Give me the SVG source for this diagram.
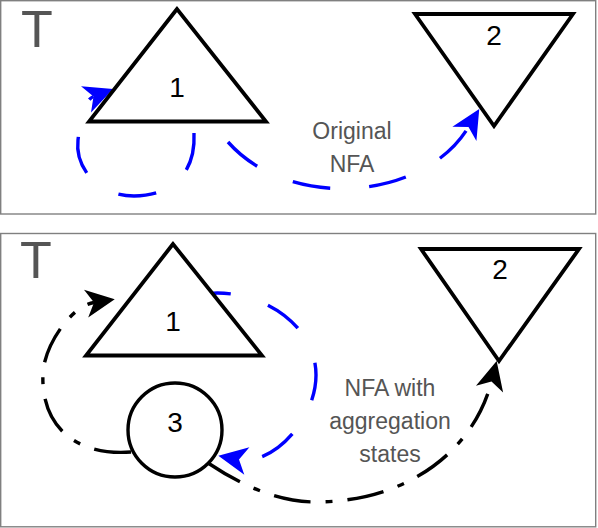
<svg xmlns="http://www.w3.org/2000/svg" width="598" height="528" viewBox="0 0 598 528">
  <style>
    .panel { fill: #ffffff; stroke: #808080; stroke-width: 1.4; }
    .shape { fill: #ffffff; stroke: #000000; stroke-width: 3.8; stroke-linejoin: miter; }
    .circ { fill: #ffffff; stroke: #000000; stroke-width: 3.4; }
    .num { font-family: "Liberation Sans", Arial, sans-serif; font-size: 28px; fill: #000000; text-anchor: middle; }
    .big { font-family: "Liberation Sans", Arial, sans-serif; font-size: 52px; fill: #555555; text-anchor: middle; }
    .lbl { font-family: "Liberation Sans", Arial, sans-serif; font-size: 23px; fill: #555555; text-anchor: middle; }
    .blue { fill: none; stroke: #0000ff; stroke-width: 3.4; stroke-dasharray: 38 39; marker-end: url(#arrowBlue); }
    .dashdot { fill: none; stroke: #000000; stroke-width: 3.4; stroke-dasharray: 37 15 7 15; }
    .dashdot.arrow { marker-end: url(#arrowBlack); }
  </style>
  <defs>
    <marker id="arrowBlue" viewBox="-32 -16 34 32" markerWidth="34" markerHeight="32" refX="-21" refY="0" orient="auto" markerUnits="userSpaceOnUse">
      <path d="M0,0 L-29,-14 L-21,0 L-29,14 Z" fill="#0000ff"/>
    </marker>
    <marker id="arrowBlack" viewBox="-32 -16 34 32" markerWidth="34" markerHeight="32" refX="-21" refY="0" orient="auto" markerUnits="userSpaceOnUse">
      <path d="M0,0 L-29,-14 L-21,0 L-29,14 Z" fill="#000000"/>
    </marker>
  </defs>

  <g id="panel-top">
    <rect class="panel" x="0.7" y="0.7" width="595" height="213.3"/>
    <text class="big" x="37" y="47">T</text>
  </g>
  <g id="panel-bottom">
    <rect class="panel" x="0.7" y="233.5" width="595" height="293.3"/>
    <text class="big" x="36" y="278">T</text>
  </g>

  <g id="connectors">
    <path id="top-loop" class="blue" d="M194,133 C196,175 170,196 134,196 C95,196 75,165 78,140 C79.5,127.5 83,100.5 93.5,96.5"/>
    <path id="top-1-2" class="blue" d="M228,142 C290,212 425,200 468.5,127"/>
    <path id="bottom-1-3" class="blue" d="M193,296 C250,282 316,320 316,375 C316,420 272.4,465.8 239,459.6"/>
    <path id="bottom-3-1" class="dashdot arrow" d="M131,452 C80,456 40,430 43,372 C45,345 71,306 94,302.5"/>
    <path id="bottom-3-2" class="dashdot arrow" d="M208,463 C244,487 280,502 315,502 C410,502 474.6,448.2 491.5,381.4"/>
  </g>

  <g id="top-node-1">
    <polygon class="shape" points="177,9 89,121.5 266,121.5"/>
    <text class="num" x="177" y="97">1</text>
  </g>
  <g id="top-node-2">
    <polygon class="shape" points="415,14 573,14 494,126"/>
    <text class="num" x="494" y="45">2</text>
  </g>
  <g id="top-label">
    <text class="lbl" x="352" y="139">Original</text>
    <text class="lbl" x="352" y="172">NFA</text>
  </g>

  <g id="bottom-node-1">
    <polygon class="shape" points="173,244 86,355.5 262,355.5"/>
    <text class="num" x="173" y="331">1</text>
  </g>
  <g id="bottom-node-2">
    <polygon class="shape" points="421,249 579,249 499,361"/>
    <text class="num" x="500" y="279">2</text>
  </g>
  <g id="bottom-node-3">
    <circle class="circ" cx="175" cy="430" r="47"/>
    <text class="num" x="175" y="432">3</text>
  </g>
  <g id="bottom-label">
    <text class="lbl" x="390" y="396">NFA with</text>
    <text class="lbl" x="390" y="429">aggregation</text>
    <text class="lbl" x="390" y="462">states</text>
  </g>
</svg>
